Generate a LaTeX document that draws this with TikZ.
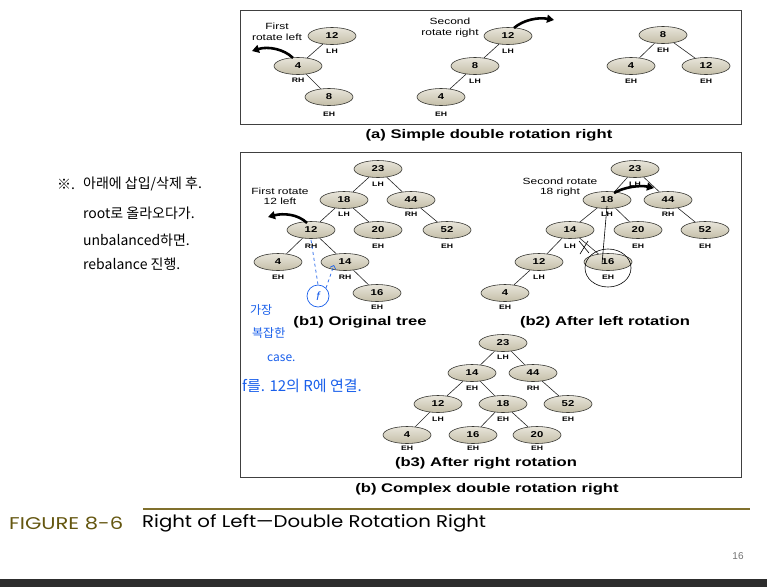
\documentclass[tikz,border=0pt]{standalone}
\usepackage{fontspec}
\setmainfont{Liberation Sans}
\newfontfamily\kr{Noto Sans CJK KR}
\newfontfamily\fut{Poppins}
\usetikzlibrary{arrows.meta,shapes.geometric,calc}
\definecolor{nodetop}{RGB}{232,229,218}
\definecolor{nodebot}{RGB}{196,190,168}
\definecolor{nodeline}{RGB}{55,55,50}
\definecolor{olive}{RGB}{100,86,15}
\definecolor{oliveline}{RGB}{128,112,45}
\definecolor{pen}{RGB}{25,95,235}
\definecolor{barc}{RGB}{45,45,45}
\newcommand\W[1]{\scalebox{1.33}[1]{#1}}
\tikzset{
  tn/.style={ellipse, draw=nodeline, line width=0.6pt, top color=nodetop, bottom color=nodebot,
    minimum width=48pt, minimum height=17pt, inner sep=0pt, font=\bfseries\fontsize{8.5}{8.5}\selectfont},
  bal/.style={font=\bfseries\fontsize{6.5}{6.5}\selectfont, inner sep=0pt},
  tedge/.style={draw=black!85, line width=0.6pt},
  rot/.style={line width=2.6pt, -{Triangle[length=7pt,width=8pt]}},
  capt/.style={font=\bfseries\fontsize{12.5}{12.5}\selectfont, inner sep=0pt},
  note/.style={font=\fontsize{9}{11}\selectfont, inner sep=0pt},
  frame/.style={draw=black!75, line width=0.8pt},
  hand/.style={font=\kr\fontsize{14}{14}\selectfont, inner sep=0pt, anchor=west},
  handb/.style={font=\kr\fontsize{12}{12}\selectfont, inner sep=0pt, anchor=west, text=pen},
}
\newcommand\TN[6]{\node[tn] (#1) at (#2,#3) {\W{#4}}; \node[bal] (#1b) at (#2,#3+#6) {\W{#5}};}
\newcommand\TWO[2]{\begin{tabular}{@{}c@{}}#1\\#2\end{tabular}}
\begin{document}
\begin{tikzpicture}[x=1pt,y=-1pt]
\useasboundingbox (0,0) rectangle (767,587);
\fill[white] (0,0) rectangle (767,587);

% frames
\draw[frame] (240,10) rectangle (741,124);
\draw[frame] (240,152) rectangle (741,477);

% ---------- panel (a) ----------
\TN{a1x12}{332}{36}{12}{LH}{15}
\TN{a1x4}{298}{66}{4}{RH}{14}
\TN{a1x8}{329}{97}{8}{EH}{17}
\draw[tedge] (a1x12) -- (a1x4);
\draw[tedge] (a1x4) -- (a1x8);
\node[note] (a1t) at (277,33) {\W{\TWO{First}{rotate left}}};
\coordinate (a1s) at (293,58); \coordinate (a1e) at (252,51);
\draw[rot] (a1s) .. controls (284,49) and (268,46) .. (a1e);

\TN{a2x12}{508}{36}{12}{LH}{15}
\TN{a2x8}{475}{66}{8}{LH}{15}
\TN{a2x4}{441}{97}{4}{EH}{17}
\draw[tedge] (a2x12) -- (a2x8);
\draw[tedge] (a2x8) -- (a2x4);
\node[note] (a2t) at (450,28) {\W{\TWO{Second}{rotate right}}};
\coordinate (a2s) at (514,28); \coordinate (a2e) at (554,20);
\draw[rot] (a2s) .. controls (523,20) and (538,17) .. (a2e);

\TN{a3x8}{663}{35}{8}{EH}{15}
\TN{a3x4}{631}{66}{4}{EH}{15}
\TN{a3x12}{706}{66}{12}{EH}{15}
\draw[tedge] (a3x8) -- (a3x4);
\draw[tedge] (a3x8) -- (a3x12);

\node[capt] (capa) at (489,135) {\W{(a) Simple double rotation right}};

% ---------- panel (b1) ----------
\TN{b1x23}{378}{169}{23}{LH}{15}
\TN{b1x18}{344}{200}{18}{LH}{14}
\TN{b1x44}{411}{200}{44}{RH}{14}
\TN{b1x12}{311}{230}{12}{RH}{16}
\TN{b1x20}{378}{230}{20}{EH}{16}
\TN{b1x52}{447}{230}{52}{EH}{16}
\TN{b1x4}{278}{262}{4}{EH}{15}
\TN{b1x14}{345}{262}{14}{RH}{15}
\TN{b1x16}{377}{293}{16}{EH}{14}
\draw[tedge] (b1x23) -- (b1x18);
\draw[tedge] (b1x23) -- (b1x44);
\draw[tedge] (b1x18) -- (b1x12);
\draw[tedge] (b1x18) -- (b1x20);
\draw[tedge] (b1x44) -- (b1x52);
\draw[tedge] (b1x12) -- (b1x4);
\draw[tedge] (b1x12) -- (b1x14);
\draw[tedge] (b1x14) -- (b1x16);
\node[note, font=\fontsize{9}{10}\selectfont] (b1t) at (280,197) {\W{\TWO{First rotate}{12 left}}};
\coordinate (b1s) at (307,223); \coordinate (b1e) at (268,217);
\draw[rot] (b1s) .. controls (298,214) and (283,213) .. (b1e);
\node[capt] (capb1) at (360,322) {\W{(b1) Original tree}};

% blue handwriting on b1
\node[circle, draw=pen, line width=0.7pt, minimum size=22pt, inner sep=0pt, text=pen, font=\itshape\fontsize{12}{12}\selectfont] (fc) at (318,296) {f};
\coordinate (b1d) at (311,240);
\draw[pen, line width=0.7pt, dashed] (b1d) -- (fc.north);
\coordinate (b1q) at (334,265);
\draw[pen, line width=0.7pt, dashed, -{Straight Barb[length=3pt]}] (fc.north east) -- (b1q);

% ---------- panel (b2) ----------
\TN{b2x23}{635}{169}{23}{LH}{15}
\TN{b2x18}{607}{200}{18}{LH}{14}
\TN{b2x44}{668}{200}{44}{RH}{14}
\TN{b2x14}{570}{230}{14}{LH}{16}
\TN{b2x20}{638}{230}{20}{EH}{16}
\TN{b2x52}{705}{230}{52}{EH}{16}
\TN{b2x12}{539}{262}{12}{LH}{15}
\TN{b2x16}{608}{262}{16}{EH}{15}
\TN{b2x4}{505}{293}{4}{EH}{14}
\draw[tedge] (b2x23) -- (b2x18);
\draw[tedge] (b2x23) -- (b2x44);
\draw[tedge] (b2x18) -- (b2x14);
\draw[tedge] (b2x18) -- (b2x20);
\draw[tedge] (b2x44) -- (b2x52);
\draw[tedge] (b2x14) -- (b2x12);
\draw[tedge] (b2x14) -- (b2x16);
\draw[tedge] (b2x12) -- (b2x4);
\node[note, font=\fontsize{9}{10.5}\selectfont] (b2t) at (560,187.5) {\W{\TWO{Second rotate}{18 right}}};
\coordinate (b2s) at (614,193); \coordinate (b2e) at (654,188);
\draw[rot] (b2s) .. controls (624,187) and (640,185) .. (b2e);
\node[capt] (capb2) at (605,322) {\W{(b2) After left rotation}};

% black handwriting on b2
\coordinate (b2h1) at (607,206); \coordinate (b2h2) at (602,264);
\draw[black, line width=0.6pt] (b2h1) -- (b2h2);
\draw[black, line width=0.6pt] (579,241) -- (589,253) (588,241) -- (580,254);
\draw[black, line width=0.6pt] (608,268) ellipse [x radius=23, y radius=19];

% ---------- panel (b3) ----------
\TN{b3x23}{503}{343}{23}{LH}{14}
\TN{b3x14}{472}{373}{14}{EH}{15}
\TN{b3x44}{533}{373}{44}{RH}{15}
\TN{b3x12}{438}{404}{12}{LH}{15}
\TN{b3x18}{503}{404}{18}{EH}{15}
\TN{b3x52}{568}{404}{52}{EH}{15}
\TN{b3x4}{407}{435}{4}{EH}{13}
\TN{b3x16}{473}{435}{16}{EH}{13}
\TN{b3x20}{537}{435}{20}{EH}{13}
\draw[tedge] (b3x23) -- (b3x14);
\draw[tedge] (b3x23) -- (b3x44);
\draw[tedge] (b3x14) -- (b3x12);
\draw[tedge] (b3x14) -- (b3x18);
\draw[tedge] (b3x44) -- (b3x52);
\draw[tedge] (b3x12) -- (b3x4);
\draw[tedge] (b3x18) -- (b3x16);
\draw[tedge] (b3x18) -- (b3x20);
\node[capt] (capb3) at (486,463) {\W{(b3) After right rotation}};
\node[capt] (capb) at (487,489) {\W{(b) Complex double rotation right}};

% ---------- handwritten notes ----------
\node[hand] (n0) at (57,184) {※.};
\node[hand] (n1) at (83,184) {아래에 삽입/삭제 후.};
\node[hand] (n2) at (83,213) {root로 올라오다가.};
\node[hand] (n3) at (83,240) {unbalanced하면.};
\node[hand] (n4) at (83,264) {rebalance 진행.};
\node[handb] (m1) at (250,310) {가장};
\node[handb] (m2) at (252,333) {복잡한};
\node[handb] (m3) at (267,358) {case.};
\node[handb, font=\kr\fontsize{15}{15}\selectfont] (m4) at (242,386) {f를. 12의 R에 연결.};

% ---------- figure caption ----------
\draw[oliveline, line width=1.6pt] (143,509) -- (750,509);
\node[anchor=west, inner sep=0pt, text=olive, font=\fut\fontsize{17}{17}\selectfont] (fig) at (9,523) {\scalebox{1.24}[1]{FIGURE 8-6}};
\node[anchor=west, inner sep=0pt, font=\fut\fontsize{17}{17}\selectfont] (figt) at (142,523) {\scalebox{1.16}[1]{Right of Left—Double Rotation Right}};
\node[inner sep=0pt, text=black!55, font=\fontsize{10}{10}\selectfont] (pg) at (738,556) {16};
\fill[barc] (0,579) rectangle (767,587);
\end{tikzpicture}
\end{document}
